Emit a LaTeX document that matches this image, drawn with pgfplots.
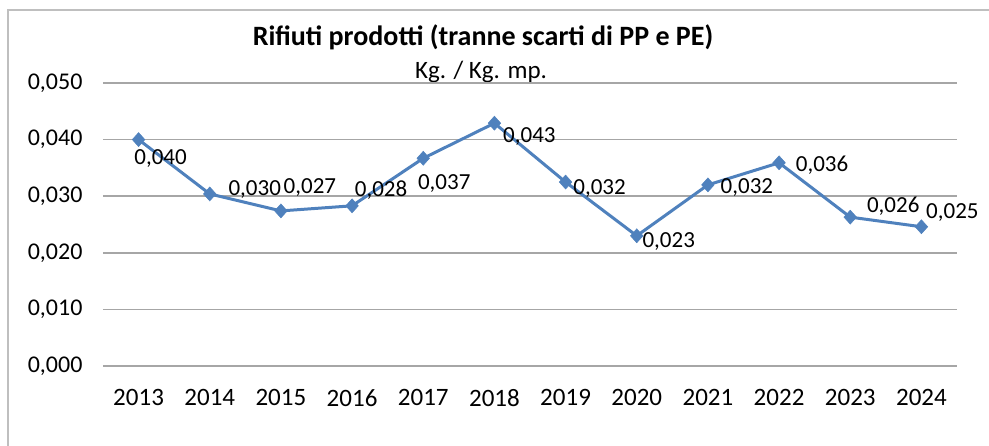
\documentclass[border=0pt]{standalone}
\usepackage{fontspec}
\setmainfont{Carlito}
\usepackage{pgfplots}
\usepackage{pgfplotstable}
\pgfplotsset{compat=1.18}
\definecolor{exblue}{HTML}{4F81BD}
\definecolor{gridgray}{HTML}{A6A6A6}
\definecolor{framegray}{HTML}{BFBFBF}
\pgfplotstableread{
x y dx dy lab
0 0.0400 22 -19 0,040
1 0.0304 45 4 0,030
2 0.0274 29 23 0,027
3 0.0283 29 16 0,028
4 0.0367 21 -25 0,037
5 0.0429 35 -13 0,043
6 0.0325 34 -6 0,032
7 0.0230 32 -6 0,023
8 0.0320 39 -3 0,032
9 0.0359 43 -2 0,036
10 0.0263 43 11 0,026
11 0.0246 31 14 0,025
}\datatable
\begin{document}
\begin{tikzpicture}[x=1pt,y=1pt]
\path[use as bounding box] (0,0) rectangle (989,446);
\draw[framegray, line width=1.5pt] (8,0) -- (8,436) -- (989,436);
\node[font=\fontsize{28}{32}\selectfont\bfseries] at (483,409) {Rifiuti prodotti (tranne scarti di PP e PE)};
\node[font=\fontsize{25}{29}\selectfont] at (481,374) {Kg. / Kg. mp.};
\begin{axis}[
  at={(103pt,80pt)}, anchor=south west,
  scale only axis, width=854pt, height=283pt,
  xmin=-0.5, xmax=11.5, ymin=0, ymax=0.05,
  scaled y ticks=false,
  axis line style={draw=none},
  tick style={draw=none},
  ymajorgrids, major grid style={gridgray, line width=1.5pt},
  ytick={0,0.01,0.02,0.03,0.04,0.05},
  yticklabels={{0,000},{0,010},{0,020},{0,030},{0,040},{0,050}},
  xtick={0,...,11},
  xticklabels={2013,2014,2015,2016,2017,2018,2019,2020,2021,2022,2023,2024},
  yticklabel style={font=\fontsize{24}{28}\selectfont, xshift=-17pt},
  xticklabel style={font=\fontsize{25}{29}\selectfont, yshift=-20pt},
  clip=false,
]
\addplot[exblue, line width=3pt, mark=diamond*, mark size=7pt,
  mark options={fill=exblue, line width=0.5pt, xscale=1.2},
  point meta=explicit symbolic,
  visualization depends on={\thisrow{dx} \as \dx},
  visualization depends on={\thisrow{dy} \as \dy},
  nodes near coords,
  nodes near coords style={black, anchor=center, xshift=\dx pt, yshift=\dy pt, font=\fontsize{23}{27}\selectfont},
] table[x=x, y=y, meta=lab] {\datatable};
\end{axis}
\end{tikzpicture}
\end{document}
